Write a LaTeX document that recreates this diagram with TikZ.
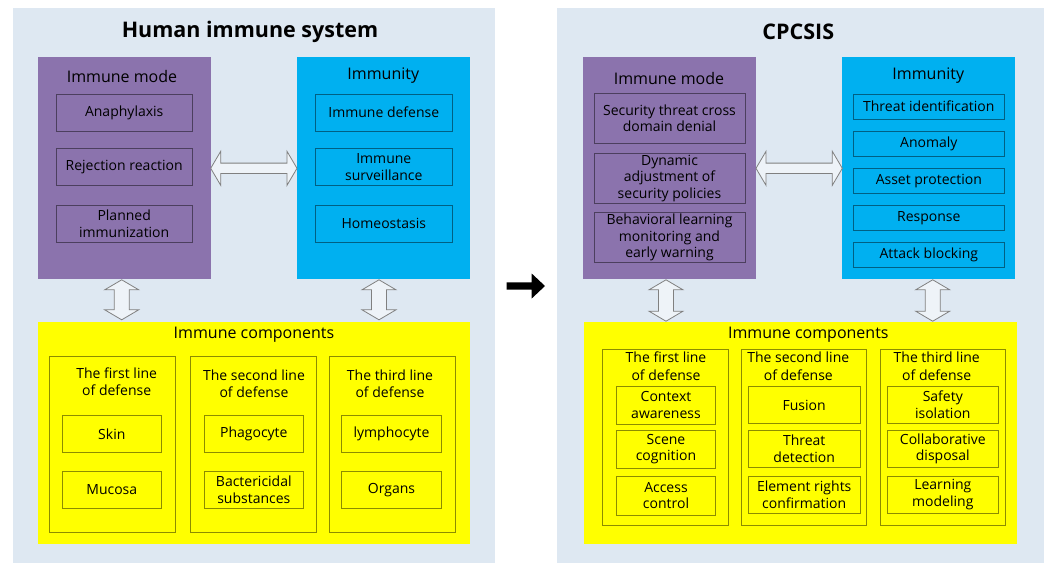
\documentclass[tikz,border=0pt]{standalone}
\usepackage{fontspec}
\setmainfont{Open Sans}
\usetikzlibrary{calc}
\definecolor{bgc}{HTML}{DEE8F2}
\definecolor{purp}{HTML}{8B73AD}
\definecolor{cyanb}{HTML}{00B0F0}
\definecolor{yel}{HTML}{FFFF00}
\definecolor{arrline}{HTML}{808080}
\begin{document}
\begin{tikzpicture}[x=1pt,y=-1pt,
  sz/.style 2 args={minimum width=#1, minimum height=#2},
  panel/.style={fill=bgc, inner sep=0, outer sep=0},
  blk/.style={inner sep=0, outer sep=0},
  lab/.style={inner sep=0, font=\fontsize{16}{19}\selectfont},
  ttl/.style={inner sep=0, font=\fontsize{21.5}{25}\selectfont\bfseries},
  item/.style={draw=black, draw opacity=0.45, line width=0.9pt, inner sep=0, align=center, font=\fontsize{14}{16.5}\selectfont},
  col/.style={draw=black, draw opacity=0.45, line width=0.9pt, inner sep=0},
  coltitle/.style={inner sep=0, align=center, font=\fontsize{14}{17}\selectfont},
  dbl/.style={draw=arrline, fill=white!50!bgc, line width=0.8pt, line join=miter},
]
\useasboundingbox (0,0) rectangle (1044,563);
\fill[white] (0,0) rectangle (1044,563);

% ---------------- left panel ----------------
\node[panel, sz={482.3}{555}] (panelL) at (253.85,285.5) {};
\node[ttl] (titleL) at (250,31.5) {Human immune system};

\node[blk, fill=purp, sz={173}{222}] (purpleL) at (124.2,168.3) {};
\node[lab] (modeL) at (122,76) {Immune mode};
\node[item, sz={136.3}{36.7}] (anaph) at (124.2,112.7) {Anaphylaxis};
\node[item, sz={136.3}{37.4}] (reject) at (124.2,167) {Rejection reaction};
\node[item, sz={136.3}{37}] (planned) at (124.2,223.8) {Planned\\immunization};

\node[blk, fill=cyanb, sz={173}{222}] (cyanL) at (383.5,168.3) {};
\node[lab] (immL) at (383.3,76) {Immunity};
\node[item, sz={137}{36.7}] (idef) at (383.8,112.7) {Immune defense};
\node[item, sz={137}{37.4}] (isurv) at (383.8,167) {Immune\\surveillance};
\node[item, sz={137}{37}] (homeo) at (383.8,223.8) {Homeostasis};

\node[blk, fill=yel, sz={432.3}{222.6}] (yellowL) at (253.85,433) {};
\node[lab] (compL) at (254,335) {Immune components};

\node[col, sz={126}{176}] (c1L) at (112.3,444.3) {};
\node[col, sz={126}{176}] (c2L) at (253.7,444.3) {};
\node[col, sz={126.3}{176}] (c3L) at (392.2,444.3) {};
\node[coltitle] (t1L) at (116.7,381.4) {The first line\\of defense};
\node[coltitle] (t2L) at (254,383.8) {The second line\\of defense};
\node[coltitle] (t3L) at (390,383.8) {The third line\\of defense};

\node[item, sz={99.7}{37}] (skin) at (111.8,434.2) {Skin};
\node[item, sz={99.7}{37.3}] (mucosa) at (111.8,489.7) {Mucosa};
\node[item, sz={99.7}{37}] (phago) at (253.8,434.2) {Phagocyte};
\node[item, sz={99.7}{37.3}] (bact) at (253.8,489.7) {Bactericidal\\substances};
\node[item, sz={99.6}{37}] (lymph) at (391.5,434.2) {lymphocyte};
\node[item, sz={99.6}{37.3}] (organs) at (391.5,489.7) {Organs};

% arrows left
\draw[dbl] let \p1=(purpleL.east), \p2=(cyanL.west) in
  (\x1,\y1) -- (\x1+10pt,\y1+17pt) -- (\x1+10pt,\y1+5.2pt) -- (\x2-10pt,\y1+5.2pt) -- (\x2-10pt,\y1+17pt)
  -- (\x2,\y1) -- (\x2-10pt,\y1-17pt) -- (\x2-10pt,\y1-5.2pt) -- (\x1+10pt,\y1-5.2pt) -- (\x1+10pt,\y1-17pt) -- cycle;
\coordinate (vaTop1) at (121.7,279.8);
\coordinate (vaBot1) at (121.7,319.8);
\coordinate (vaTop2) at (379,279.8);
\coordinate (vaBot2) at (379,319.8);
\foreach \a/\b in {vaTop1/vaBot1, vaTop2/vaBot2}{
\draw[dbl] let \p1=(\a), \p2=(\b) in
  (\x1,\y1) -- (\x1+17pt,\y1-10pt) -- (\x1+7.5pt,\y1-10pt) -- (\x1+7.5pt,\y2+10pt) -- (\x1+17pt,\y2+10pt)
  -- (\x1,\y2) -- (\x1-17pt,\y2+10pt) -- (\x1-7.5pt,\y2+10pt) -- (\x1-7.5pt,\y1-10pt) -- (\x1-17pt,\y1-10pt) -- cycle;
}

% ---------------- middle arrow ----------------
\coordinate (mid1) at (506.7,286);
\coordinate (mid2) at (545,286);
\fill[black] let \p1=(mid1), \p2=(mid2) in
  (\x1,\y1+3.7pt) -- (\x2-13.3pt,\y1+3.7pt) -- (\x2-13.3pt,\y1+12.5pt) -- (\x2,\y1)
  -- (\x2-13.3pt,\y1-12.5pt) -- (\x2-13.3pt,\y1-3.7pt) -- (\x1,\y1-3.7pt) -- cycle;

% ---------------- right panel ----------------
\node[panel, sz={487.3}{555}] (panelR) at (800.35,285.5) {};
\node[ttl] (titleR) at (798.3,31.5) {CPCSIS};

\node[blk, fill=purp, sz={173}{222}] (purpleR) at (669.5,168.3) {};
\node[lab] (modeR) at (669,78.3) {Immune mode};
\node[item, sz={151}{50.7}] (cross) at (669.5,118.3) {Security threat cross\\domain denial};
\node[item, sz={151}{50}] (dyn) at (669.5,178.3) {Dynamic\\adjustment of\\security policies};
\node[item, sz={151}{50.4}] (behav) at (669.5,237.5) {Behavioral learning\\monitoring and\\early warning};

\node[blk, fill=cyanb, sz={173}{222}] (cyanR) at (928.8,168.3) {};
\node[lab] (immR) at (928.3,76) {Immunity};
\node[item, sz={151}{25}] (threatid) at (928.8,106.5) {Threat identification};
\node[item, sz={151}{25}] (anomaly) at (928.8,143.7) {Anomaly};
\node[item, sz={151}{25}] (asset) at (928.8,180.8) {Asset protection};
\node[item, sz={151}{25}] (resp) at (928.8,218) {Response};
\node[item, sz={151}{25}] (attack) at (928.8,254.8) {Attack blocking};

\node[blk, fill=yel, sz={433.3}{222.6}] (yellowR) at (800.65,433) {};
\node[lab] (compR) at (808.3,335) {Immune components};

\node[col, sz={126}{176}] (c1R) at (665.7,437) {};
\node[col, sz={124.6}{176}] (c2R) at (804,437) {};
\node[col, sz={125}{176}] (c3R) at (942.8,437) {};
\node[coltitle, font=\fontsize{14}{18}\selectfont] (t1R) at (666,366.7) {The first line\\of defense};
\node[coltitle, font=\fontsize{14}{18}\selectfont] (t2R) at (798.3,366.7) {The second line\\of defense};
\node[coltitle, font=\fontsize{14}{18}\selectfont] (t3R) at (936.7,366.7) {The third line\\of defense};

\node[item, sz={99.4}{38.3}] (context) at (666,405.2) {Context\\awareness};
\node[item, sz={99.4}{38.7}] (scene) at (666,449.3) {Scene\\cognition};
\node[item, sz={99.4}{38.7}] (access) at (666,495.7) {Access\\control};
\node[item, sz={111.7}{37.3}] (fusion) at (804.2,405.2) {Fusion};
\node[item, sz={111.7}{37.3}] (tdet) at (804.2,448.7) {Threat\\detection};
\node[item, sz={111.7}{37.3}] (erc) at (804.2,494.7) {Element rights\\confirmation};
\node[item, sz={111.7}{37.7}] (safety) at (942.8,404.8) {Safety\\isolation};
\node[item, sz={111.7}{37.3}] (collab) at (942.8,448.7) {Collaborative\\disposal};
\node[item, sz={111.7}{37}] (learn) at (942.8,494.5) {Learning\\modeling};

% arrows right
\draw[dbl] let \p1=(purpleR.east), \p2=(cyanR.west) in
  (\x1,\y1) -- (\x1+10pt,\y1+17pt) -- (\x1+10pt,\y1+5.2pt) -- (\x2-10pt,\y1+5.2pt) -- (\x2-10pt,\y1+17pt)
  -- (\x2,\y1) -- (\x2-10pt,\y1-17pt) -- (\x2-10pt,\y1-5.2pt) -- (\x1+10pt,\y1-5.2pt) -- (\x1+10pt,\y1-17pt) -- cycle;
\coordinate (vaTop3) at (666,279.8);
\coordinate (vaBot3) at (666,321.2);
\coordinate (vaTop4) at (932.7,279.8);
\coordinate (vaBot4) at (932.7,321.2);
\foreach \a/\b in {vaTop3/vaBot3, vaTop4/vaBot4}{
\draw[dbl] let \p1=(\a), \p2=(\b) in
  (\x1,\y1) -- (\x1+17pt,\y1-10pt) -- (\x1+7.5pt,\y1-10pt) -- (\x1+7.5pt,\y2+10pt) -- (\x1+17pt,\y2+10pt)
  -- (\x1,\y2) -- (\x1-17pt,\y2+10pt) -- (\x1-7.5pt,\y2+10pt) -- (\x1-7.5pt,\y1-10pt) -- (\x1-17pt,\y1-10pt) -- cycle;
}
\end{tikzpicture}
\end{document}
